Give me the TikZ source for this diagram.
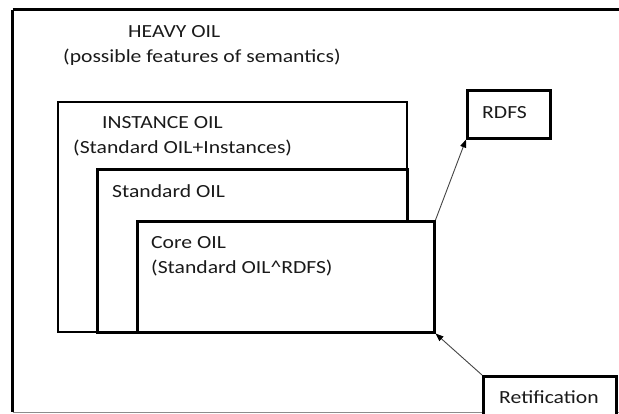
\documentclass[tikz,border=0pt]{standalone}
\usepackage{fontspec}
\setmainfont{Carlito}
\usetikzlibrary{arrows.meta}
\definecolor{txt}{HTML}{1A1A1A}
\definecolor{arr}{HTML}{444444}
\newcommand{\wtxt}[1]{\scalebox{1.17}[1]{#1}}
\begin{document}
\begin{tikzpicture}[x=1pt,y=-1pt,
  lbl/.style={anchor=base west,inner sep=0pt,text=txt,font=\fontsize{18.5}{20}\selectfont},
  boxthin/.style={draw=black,fill=white,line width=1.6pt,anchor=north west,inner sep=0pt},
  boxthick/.style={draw=black,fill=white,line width=2.5pt,anchor=north west,inner sep=0pt},
  conn/.style={draw=arr,line width=0.9pt,-{Triangle[length=8pt,width=6pt,color=black]}}]
\useasboundingbox (0,0) rectangle (619,413);
\clip (0,0) rectangle (619,413);
% outer heavy OIL frame
\draw[line width=3pt] (12.5,9.5) -- (640,9.5);
\draw[line width=3pt] (12.5,9.5) -- (12.5,412);
\draw[line width=1pt,draw=black!45] (12.5,412.2) -- (640,412.2);
\node[lbl] (heavy) at (128,37) {\wtxt{HEAVY OIL}};
\node[lbl] (heavysub) at (63,62) {\wtxt{(possible features of semantics)}};
% nested boxes
\node[boxthin,minimum width=349pt,minimum height=230pt] (inst) at (57,101) {};
\node[boxthick,minimum width=310pt,minimum height=163pt] (std) at (96,168) {};
\node[boxthick,minimum width=297pt,minimum height=111pt] (core) at (136,220) {};
\node[lbl] (instt) at (102,128) {\wtxt{INSTANCE OIL}};
\node[lbl] (instsub) at (73,153) {\wtxt{(Standard OIL+Instances)}};
\node[lbl] (stdt) at (112,197) {\wtxt{Standard OIL}};
\node[lbl] (coret) at (151,248) {\wtxt{Core OIL}};
\node[lbl] (coresub) at (151,273) {\wtxt{(Standard OIL\^{}RDFS)}};
% side boxes
\node[boxthick,minimum width=83pt,minimum height=48pt] (rdfs) at (466,89) {};
\node[lbl] (rdfst) at (482,118) {\wtxt{RDFS}};
\node[boxthick,minimum width=133pt,minimum height=60pt] (retif) at (482,375) {};
\node[lbl] (retift) at (499,403) {\wtxt{Retification}};
% connectors
\draw[conn] (core.north east) -- (rdfs.south west);
\draw[conn] (retif.north west) -- (core.south east);
\end{tikzpicture}
\end{document}
